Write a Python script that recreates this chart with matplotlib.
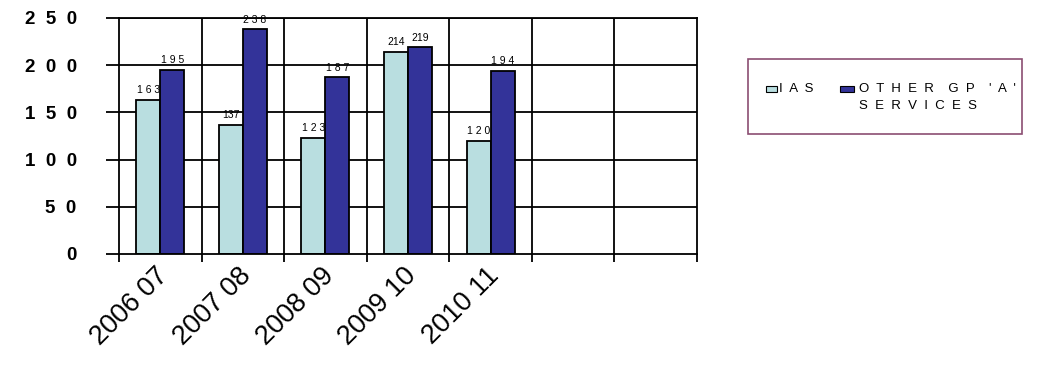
import matplotlib
matplotlib.use("Agg")
import matplotlib.pyplot as plt
from matplotlib.patches import Rectangle
import matplotlib.transforms as mtransforms
import numpy as np

plt.rcParams['font.family'] = ['Liberation Sans', 'DejaVu Sans']

categories = ["2006 07", "2007 08", "2008 09", "2009 10", "2010 11", "", ""]
ias = [163, 137, 123, 214, 120]
other = [195, 238, 187, 219, 194]
ias_labels = ["1 6 3", "137", "1 2 3", "214", "1 2 0"]
other_labels = ["1 9 5", "2 3 8", "1 8 7", "219", "1 9 4"]
yticks = [0, 50, 100, 150, 200, 250]
ytick_labels = ["0", "5  0", "1  0  0", "1  5  0", "2  0  0", "2  5  0"]
series_names = ["I  A  S", "O  T  H  E  R    G  P    '  A  '", "S  E  R  V  I  C  E  S"]

light = "#B9DEE0"
dark = "#333399"

W, H = 1049, 375
fig = plt.figure(figsize=(W/100, H/100), dpi=100)
ax = fig.add_axes([119/W, 1-254/H, (697-119)/W, (254-18)/H])

n = len(categories)
x = np.arange(len(ias))
w = 0.29
ax.bar(x - w/2, ias, w, color=light, edgecolor="black", linewidth=1.3, zorder=3)
ax.bar(x + w/2, other, w, color=dark, edgecolor="black", linewidth=1.3, zorder=3)

for xi, v, t in zip(x, ias, ias_labels):
    ax.text(xi - w/2, v + 5, t, ha="center", va="bottom", fontsize=7.5, zorder=4)
for xi, v, t in zip(x, other, other_labels):
    ax.text(xi + w/2, v + 5, t, ha="center", va="bottom", fontsize=7.5, zorder=4)

ax.set_xlim(-0.5, n - 0.5)
ax.set_ylim(0, 250)

for yv in yticks[1:]:
    ax.axhline(yv, color="black", linewidth=1.3, zorder=1)
for b in np.arange(0.5, n - 0.5, 1.0):
    ax.axvline(b, color="black", linewidth=1.3, zorder=1)

ax.set_yticks(yticks)
ax.set_yticklabels(ytick_labels, fontsize=13.5, fontweight="bold")
ax.tick_params(axis="y", direction="out", length=9.5, width=1.3, pad=21)

ax.set_xticks(np.arange(n))
ax.set_xticklabels(categories, rotation=45, ha="right", rotation_mode="anchor", fontsize=19.5)
ax.tick_params(axis="x", length=0, pad=6)
ax.set_xticks(np.arange(-0.5, n, 1.0), minor=True)
ax.tick_params(axis="x", which="minor", direction="out", length=5.5, width=1.3)
off = mtransforms.ScaledTranslation(-5/100, 0, fig.dpi_scale_trans)
for lbl in ax.get_xticklabels():
    lbl.set_transform(lbl.get_transform() + off)

for s in ax.spines.values():
    s.set_linewidth(1.3)
    s.set_zorder(5)

# legend (drawn manually to match the original layout)
fig.patches.append(Rectangle((748/W, 1-134/H), (1022-748)/W, (134-59)/H,
                             transform=fig.transFigure, fill=False,
                             edgecolor="#8B4E72", linewidth=1.2))
fig.patches.append(Rectangle((766/W, 1-92/H), 11/W, 6/H, transform=fig.transFigure,
                             facecolor=light, edgecolor="black", linewidth=0.8))
fig.patches.append(Rectangle((840/W, 1-92/H), 14/W, 6/H, transform=fig.transFigure,
                             facecolor=dark, edgecolor="black", linewidth=0.8))
fig.text(779/W, 1-89/H, series_names[0], ha="left", va="center", fontsize=9.5)
fig.text(859/W, 1-89/H, series_names[1], ha="left", va="center", fontsize=9.5)
fig.text(859/W, 1-106/H, series_names[2], ha="left", va="center", fontsize=9.5)

fig.savefig("out.png", dpi=100)
